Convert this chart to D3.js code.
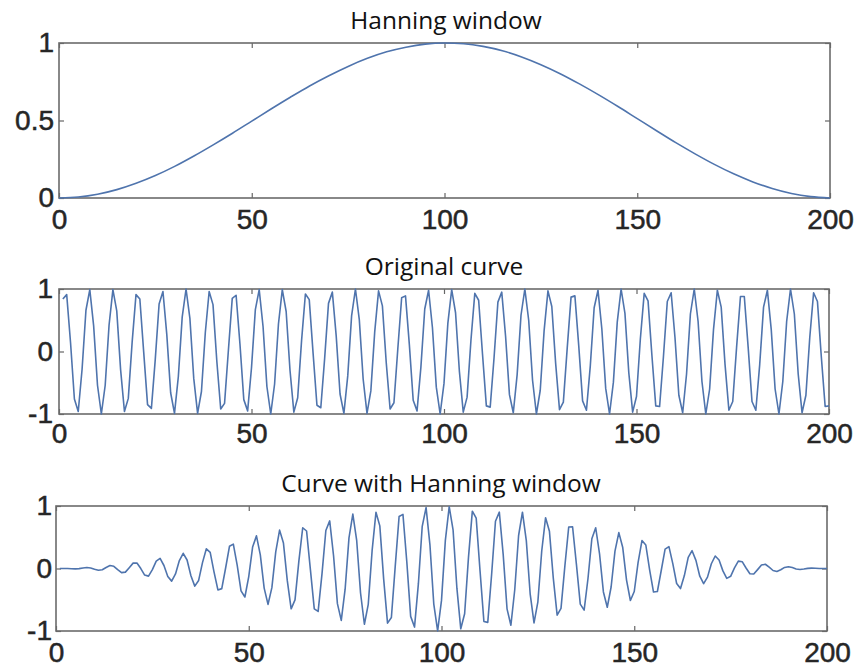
<!DOCTYPE html>
<html>
<head>
<meta charset="utf-8">
<script src="https://cdn.jsdelivr.net/npm/d3@7"></script>
<style>
  body { margin: 0; background: #fff; }
  .title { font-family: "Open Sans", Lato, sans-serif; font-size: 24.5px; fill: #111; }
  .axis text { font-family: "Liberation Sans", Arial, sans-serif; font-size: 28px; fill: #262626; stroke: #262626; stroke-width: 0.5px; }
  .axis path { display: none; }
  .axis line { stroke: #666; stroke-width: 1.2px; }
</style>
</head>
<body>
<div id="chart"></div>
<script>
//
// Hanning window demo: window, original curve, windowed curve
//

// window values read at x = 0, 5, 10 ... 200
var windowX = [0, 5, 10, 15, 20, 25, 30, 35, 40, 45, 50, 55, 60, 65, 70, 75, 80, 85, 90, 95, 100,
    105, 110, 115, 120, 125, 130, 135, 140, 145, 150, 155, 160, 165, 170, 175, 180, 185, 190, 195, 200];
var windowY = [0, 0.006, 0.024, 0.054, 0.095, 0.145, 0.204, 0.271, 0.343, 0.418, 0.496, 0.574, 0.650, 0.723, 0.789, 0.849, 0.901, 0.943, 0.973, 0.993, 1.000,
    0.995, 0.978, 0.950, 0.910, 0.860, 0.802, 0.736, 0.665, 0.590, 0.512, 0.434, 0.357, 0.285, 0.217, 0.156, 0.104, 0.061, 0.029, 0.009, 0.000];

// original curve, samples 1..200
var originalY = [
    0.84, 0.91, 0.14, -0.76, -0.96, -0.28, 0.66, 0.99, 0.41, -0.54, -1.00, -0.54, 0.42, 0.99, 0.65, -0.29, -0.96, -0.75, 0.15, 0.91, 0.84, -0.01,
    -0.85, -0.91, -0.13, 0.76, 0.96, 0.27, -0.66, -0.99, -0.40, 0.55, 1.00, 0.53, -0.43, -0.99, -0.64, 0.30, 0.96, 0.75, -0.16, -0.92, -0.83, 0.02,
    0.85, 0.90, 0.12, -0.77, -0.95, -0.26, 0.67, 0.99, 0.40, -0.56, -1.00, -0.52, 0.44, 0.99, 0.64, -0.30, -0.97, -0.74, 0.17, 0.92, 0.83, -0.03,
    -0.86, -0.90, -0.11, 0.77, 0.95, 0.25, -0.68, -0.99, -0.39, 0.57, 1.00, 0.51, -0.44, -0.99, -0.63, 0.31, 0.97, 0.73, -0.18, -0.92, -0.82, 0.04,
    0.86, 0.89, 0.11, -0.78, -0.95, -0.25, 0.68, 0.98, 0.38, -0.57, -1.00, -0.51, 0.45, 0.99, 0.62, -0.32, -0.97, -0.73, 0.18, 0.93, 0.82, -0.04,
    -0.87, -0.89, -0.10, 0.79, 0.95, 0.24, -0.69, -0.98, -0.37, 0.58, 1.00, 0.50, -0.46, -1.00, -0.62, 0.33, 0.97, 0.72, -0.19, -0.93, -0.81, 0.05,
    0.87, 0.89, 0.09, -0.79, -0.94, -0.23, 0.70, 0.98, 0.36, -0.59, -1.00, -0.49, 0.47, 1.00, 0.61, -0.34, -0.97, -0.72, 0.20, 0.93, 0.81, -0.06,
    -0.87, -0.88, -0.08, 0.80, 0.94, 0.22, -0.70, -0.98, -0.36, 0.60, 1.00, 0.48, -0.48, -1.00, -0.60, 0.35, 0.98, 0.71, -0.21, -0.94, -0.80, 0.07,
    0.88, 0.88, 0.07, -0.80, -0.94, -0.21, 0.71, 0.98, 0.35, -0.60, -1.00, -0.48, 0.48, 1.00, 0.60, -0.36, -0.98, -0.70, 0.22, 0.94, 0.80, -0.08,
    -0.88, -0.87];

// curve with Hanning window, samples 1..200
var windowedY = [
    0.000, 0.001, 0.000, -0.003, -0.006, -0.002, 0.008, 0.015, 0.008, -0.013, -0.029, -0.019, 0.017, 0.047, 0.035, -0.018, -0.066, -0.058, 0.013, 0.086, 0.087, -0.001,
    -0.105, -0.122, -0.019, 0.119, 0.161, 0.048, -0.127, -0.202, -0.087, 0.127, 0.243, 0.136, -0.116, -0.282, -0.191, 0.094, 0.315, 0.257, -0.057, -0.343, -0.322, 0.008,
    0.355, 0.390, 0.054, -0.358, -0.456, -0.129, 0.343, 0.522, 0.217, -0.313, -0.574, -0.307, 0.266, 0.614, 0.407, -0.195, -0.645, -0.503, 0.118, 0.652, 0.600, -0.022,
    -0.645, -0.687, -0.085, 0.608, 0.762, 0.204, -0.562, -0.830, -0.331, 0.490, 0.871, 0.449, -0.392, -0.892, -0.573, 0.285, 0.899, 0.682, -0.170, -0.874, -0.784, 0.038,
    0.833, 0.866, 0.108, -0.766, -0.937, -0.247, 0.675, 0.975, 0.379, -0.569, -0.999, -0.510, 0.450, 0.989, 0.619, -0.319, -0.965, -0.725, 0.178, 0.917, 0.806, -0.039,
    -0.847, -0.862, -0.096, 0.755, 0.902, 0.226, -0.645, -0.908, -0.340, 0.528, 0.901, 0.446, -0.405, -0.871, -0.533, 0.280, 0.813, 0.595, -0.155, -0.746, -0.639, 0.039,
    0.664, 0.668, 0.066, -0.571, -0.666, -0.160, 0.476, 0.652, 0.234, -0.375, -0.620, -0.296, 0.277, 0.574, 0.341, -0.185, -0.512, -0.368, 0.099, 0.447, 0.376, -0.027,
    -0.377, -0.368, -0.032, 0.310, 0.350, 0.079, -0.240, -0.321, -0.113, 0.179, 0.285, 0.130, -0.123, -0.243, -0.138, 0.076, 0.200, 0.136, -0.038, -0.158, -0.125, 0.010,
    0.118, 0.109, 0.008, -0.083, -0.089, -0.018, 0.055, 0.068, 0.021, -0.032, -0.047, -0.020, 0.017, 0.029, 0.015, -0.007, -0.015, -0.008, 0.002, 0.006, 0.003, 0.000,
    -0.001, 0.000];

var xTicks = [0, 50, 100, 150, 200];

var width = 857, height = 669;
var lineColor = "#4f74ad";

var svg = d3.select("#chart")
    .append("svg")
    .attr("width", width)
    .attr("height", height);

function drawPanel(p) {
    var x = d3.scaleLinear().domain([0, 200]).range([p.left, p.right]);
    var y = d3.scaleLinear().domain(p.yDomain).range([p.bottom, p.top]);
    var g = svg.append("g");

    // title
    g.append("text")
        .attr("class", "title")
        .attr("x", p.titleX)
        .attr("y", p.titleY)
        .attr("text-anchor", "middle")
        .text(p.title);

    // bottom axis, ticks pointing in
    g.append("g")
        .attr("class", "axis")
        .attr("transform", "translate(0," + p.bottom + ")")
        .call(d3.axisBottom(x).tickValues(xTicks).tickSizeInner(-5).tickSizeOuter(0).tickPadding(p.xPad));

    // top ticks only
    g.append("g")
        .attr("class", "axis")
        .attr("transform", "translate(0," + p.top + ")")
        .call(d3.axisTop(x).tickValues(xTicks).tickSizeInner(-5).tickSizeOuter(0).tickFormat(""));

    // left axis
    g.append("g")
        .attr("class", "axis")
        .attr("transform", "translate(" + p.left + ",0)")
        .call(d3.axisLeft(y).tickValues(p.yTicks).tickSizeInner(-5).tickSizeOuter(0).tickPadding(p.yPad)
            .tickFormat(function (d) { return d == -1 ? "-1" : d3.format("")(d); }));

    // right ticks only
    g.append("g")
        .attr("class", "axis")
        .attr("transform", "translate(" + p.right + ",0)")
        .call(d3.axisRight(y).tickValues(p.yTicks).tickSizeInner(-5).tickSizeOuter(0).tickFormat(""));

    // frame
    g.append("rect")
        .attr("x", p.left)
        .attr("y", p.top)
        .attr("width", p.right - p.left)
        .attr("height", p.bottom - p.top)
        .attr("fill", "none")
        .attr("stroke", "#6b6b6b")
        .attr("stroke-width", 1.6);

    var line = d3.line()
        .x(function (d) { return x(d[0]); })
        .y(function (d) { return y(d[1]); });
    if (p.smooth) line.curve(d3.curveMonotoneX);

    g.append("path")
        .datum(p.points)
        .attr("d", line)
        .attr("fill", "none")
        .attr("stroke", lineColor)
        .attr("stroke-width", 1.6)
        .attr("stroke-linejoin", "round");
}

var sampleX = d3.range(1, originalY.length + 1);

drawPanel({
    title: "Hanning window", titleX: 446, titleY: 29,
    left: 59, right: 830, top: 43, bottom: 198,
    yDomain: [0, 1], yTicks: [0, 0.5, 1], xPad: 11, yPad: 5,
    smooth: true,
    points: windowX.map(function (d, i) { return [d, windowY[i]]; })
});

drawPanel({
    title: "Original curve", titleX: 444, titleY: 275,
    left: 59, right: 829, top: 289, bottom: 414,
    yDomain: [-1, 1], yTicks: [-1, 0, 1], xPad: 9, yPad: 6,
    smooth: false,
    points: sampleX.map(function (d, i) { return [d, originalY[i]]; })
});

drawPanel({
    title: "Curve with Hanning window", titleX: 441, titleY: 492,
    left: 56, right: 827, top: 506, bottom: 631,
    yDomain: [-1, 1], yTicks: [-1, 0, 1], xPad: 11, yPad: 4,
    smooth: false,
    points: sampleX.map(function (d, i) { return [d, windowedY[i]]; })
});
</script>
</body>
</html>
